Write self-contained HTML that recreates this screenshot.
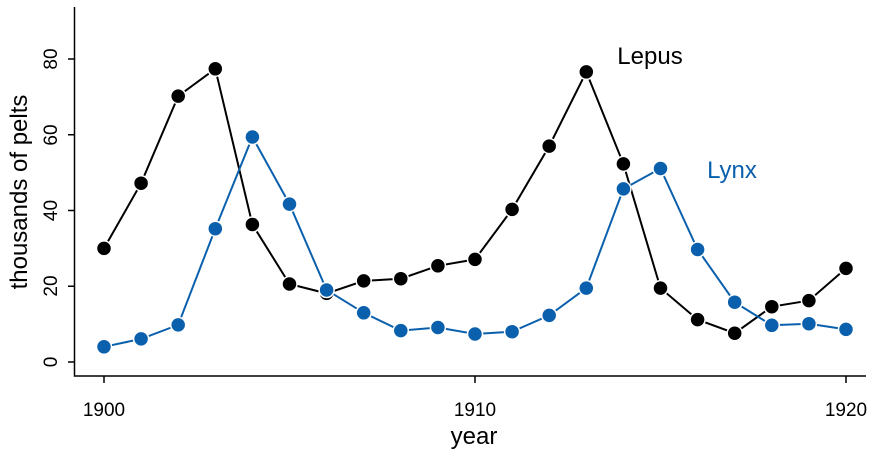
<!DOCTYPE html>
<html><head><style>body{margin:0;background:#fff}text{font-family:"Liberation Sans",Arial,sans-serif}.t{font-size:19px}.b{font-size:24px}</style></head><body>
<svg width="878" height="451" xmlns="http://www.w3.org/2000/svg">
<rect width="878" height="451" fill="#fff"/>
<g stroke="#000" stroke-width="1.5" fill="none">
<path d="M74.5 7V376H866"/>
<path d="M74.5 362H68M74.5 286.25H68M74.5 210.5H68M74.5 134.75H68M74.5 59H68"/>
<path d="M104 376V383M475 376V383M846 376V383"/>
</g>
<g fill="#000" text-anchor="middle">
<text class="t" transform="translate(57,362) rotate(-90)">0</text>
<text class="t" transform="translate(57,286) rotate(-90)">20</text>
<text class="t" transform="translate(57,210.5) rotate(-90)">40</text>
<text class="t" transform="translate(57,135) rotate(-90)">60</text>
<text class="t" transform="translate(57,59) rotate(-90)">80</text>
<text class="t" x="104" y="416">1900</text>
<text class="t" x="475" y="416">1910</text>
<text class="t" x="846" y="416">1920</text>
<text class="b" x="474" y="444">year</text>
<text class="b" transform="translate(27,192) rotate(-90)">thousands of pelts</text>
<text class="b" x="650" y="64">Lepus</text>
<text class="b" x="732" y="178" fill="#0a60ad">Lynx</text>
</g>
<polyline fill="none" stroke="#000" stroke-width="2" points="104,248.4 141.1,183.2 178.2,96.1 215.3,68.8 252.4,224.5 289.5,284 326.6,293.4 363.7,280.9 400.8,278.7 437.9,265.8 475,259.4 512.1,209.4 549.2,146.1 586.3,71.9 623.4,163.9 660.5,288.1 697.6,319.6 734.7,333.2 771.8,306.7 808.9,300.6 846,268.4"/>
<g fill="#000" stroke="#fff" stroke-width="1.5">
<circle cx="104" cy="248.4" r="7.5"/><circle cx="141.1" cy="183.2" r="7.5"/><circle cx="178.2" cy="96.1" r="7.5"/><circle cx="215.3" cy="68.8" r="7.5"/><circle cx="252.4" cy="224.5" r="7.5"/><circle cx="289.5" cy="284" r="7.5"/><circle cx="326.6" cy="293.4" r="7.5"/><circle cx="363.7" cy="280.9" r="7.5"/><circle cx="400.8" cy="278.7" r="7.5"/><circle cx="437.9" cy="265.8" r="7.5"/><circle cx="475" cy="259.4" r="7.5"/><circle cx="512.1" cy="209.4" r="7.5"/><circle cx="549.2" cy="146.1" r="7.5"/><circle cx="586.3" cy="71.9" r="7.5"/><circle cx="623.4" cy="163.9" r="7.5"/><circle cx="660.5" cy="288.1" r="7.5"/><circle cx="697.6" cy="319.6" r="7.5"/><circle cx="734.7" cy="333.2" r="7.5"/><circle cx="771.8" cy="306.7" r="7.5"/><circle cx="808.9" cy="300.6" r="7.5"/><circle cx="846" cy="268.4" r="7.5"/>
</g>
<polyline fill="none" stroke="#0a60ad" stroke-width="2" points="104,346.8 141.1,338.9 178.2,324.9 215.3,228.7 252.4,137 289.5,204.1 326.6,290 363.7,312.8 400.8,330.6 437.9,327.5 475,334 512.1,331.7 549.2,315.4 586.3,288.1 623.4,188.9 660.5,168.5 697.6,249.5 734.7,302.2 771.8,325.3 808.9,323.7 846,329.4"/>
<g fill="#0a60ad" stroke="#fff" stroke-width="1.5">
<circle cx="104" cy="346.8" r="7.5"/><circle cx="141.1" cy="338.9" r="7.5"/><circle cx="178.2" cy="324.9" r="7.5"/><circle cx="215.3" cy="228.7" r="7.5"/><circle cx="252.4" cy="137" r="7.5"/><circle cx="289.5" cy="204.1" r="7.5"/><circle cx="326.6" cy="290" r="7.5"/><circle cx="363.7" cy="312.8" r="7.5"/><circle cx="400.8" cy="330.6" r="7.5"/><circle cx="437.9" cy="327.5" r="7.5"/><circle cx="475" cy="334" r="7.5"/><circle cx="512.1" cy="331.7" r="7.5"/><circle cx="549.2" cy="315.4" r="7.5"/><circle cx="586.3" cy="288.1" r="7.5"/><circle cx="623.4" cy="188.9" r="7.5"/><circle cx="660.5" cy="168.5" r="7.5"/><circle cx="697.6" cy="249.5" r="7.5"/><circle cx="734.7" cy="302.2" r="7.5"/><circle cx="771.8" cy="325.3" r="7.5"/><circle cx="808.9" cy="323.7" r="7.5"/><circle cx="846" cy="329.4" r="7.5"/>
</g>
</svg>
</body></html>
